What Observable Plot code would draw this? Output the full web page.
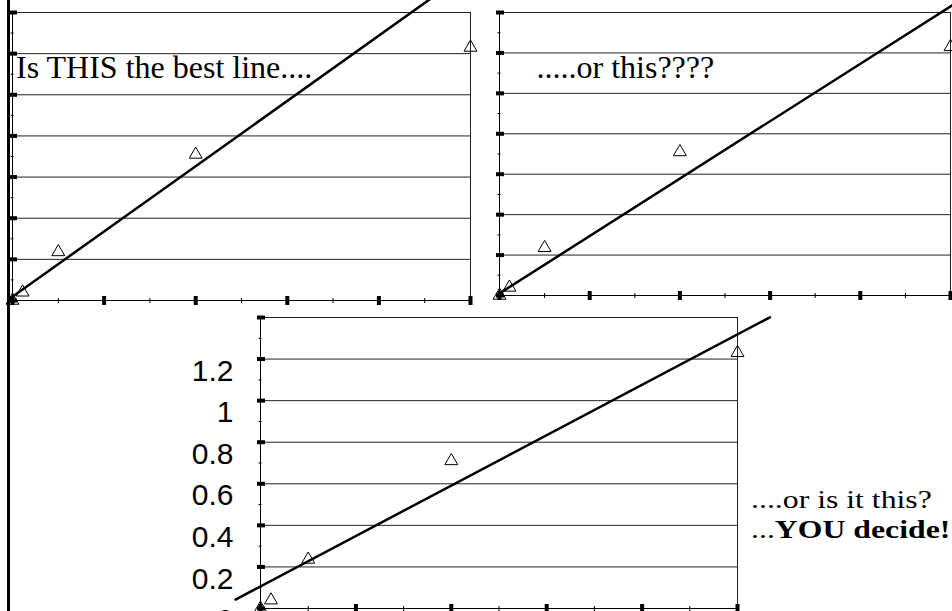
<!DOCTYPE html>
<html>
<head>
<meta charset="utf-8">
<script src="https://cdn.jsdelivr.net/npm/d3@7"></script>
<script src="https://cdn.jsdelivr.net/npm/@observablehq/plot@0.6"></script>
<style>
  html, body { margin: 0; padding: 0; background: white; }
  #wrap { position: relative; width: 952px; height: 611px; overflow: hidden; background: white; }
  #wrap svg { position: absolute; left: 0; top: 0; }
  .border { position: absolute; left: 7px; top: 0; width: 3px; height: 611px; background: #000; }
  .note { position: absolute; font-family: "Liberation Serif", "Times New Roman", serif; font-size: 25px;
          line-height: 25px; white-space: nowrap; color: #000; transform: scaleX(1.27); transform-origin: left top; }
</style>
</head>
<body>
<div id="wrap"><div class="border"></div></div>
<script>
// ---- data ----
const pointX = [0, 0.11, 0.5, 2, 5];
const pointY = [0, 0.04, 0.236, 0.71, 1.23];

// fitted lines (endpoints in data units)
const line1X = [-0.02, 4.7];
const line1Y = [0.012, 1.51];
const line2X = [0.01, 5.2];
const line2Y = [0.013, 1.487];
const line3X = [-0.262, 5.34];
const line3Y = [0.043, 1.401];

const yGrid = [0.2, 0.4, 0.6, 0.8, 1, 1.2, 1.4];
const yMajor = [0, 0.2, 0.4, 0.6, 0.8, 1, 1.2, 1.4];
const yMinor = [0.1, 0.3, 0.5, 0.7, 0.9, 1.1, 1.3];
const xMajor = [0, 1, 2, 3, 4, 5];
const xMinor = [0.5, 1.5, 2.5, 3.5, 4.5];
const yLabelTicks = [0, 0.2, 0.4, 0.6, 0.8, 1, 1.2];
const yLabelText = ["0", "0.2", "0.4", "0.6", "0.8", "1", "1.2"];

const note1 = "Is THIS the best line....";
const note2 = ".....or this????";

const points = pointX.map((x, i) => ({x, y: pointY[i]}));
const toLine = (xs, ys) => xs.map((x, i) => ({x, y: ys[i]}));

function chart({margins, line, note, noteDx, labels}) {
  const marks = [
    Plot.ruleY(yGrid, {stroke: "#222", strokeWidth: 1}),
    Plot.ruleX([5], {y1: 0, y2: 1.4, stroke: "#222", strokeWidth: 1}),
    Plot.ruleX([0], {y1: 0, y2: 1.4, stroke: "#000", strokeWidth: 1}),
    Plot.ruleY([0], {stroke: "#000", strokeWidth: 1}),
    Plot.axisY(yMajor, {anchor: "left", tickSize: 8, dx: 5, strokeWidth: 4, stroke: "#000", fill: "none", label: null}),
    Plot.axisY(yMinor, {anchor: "left", tickSize: 3, dx: 1.5, strokeWidth: 1, stroke: "#000", fill: "none", label: null}),
    Plot.axisX(xMajor, {anchor: "bottom", tickSize: 9, dy: -4, strokeWidth: 4, stroke: "#000", fill: "none", label: null}),
    Plot.axisX(xMinor, {anchor: "bottom", tickSize: 5, dy: -2, strokeWidth: 1, stroke: "#000", fill: "none", label: null}),
    Plot.dot(points, {x: "x", y: "y", symbol: "triangle", r: 4.8, stroke: "#000", fill: "none", strokeWidth: 1}),
    Plot.line(line, {x: "x", y: "y", stroke: "#000", strokeWidth: 2.5})
  ];
  if (labels) {
    marks.push(Plot.axisY(yLabelTicks, {
      anchor: "left", tickSize: 0, tickPadding: 27, stroke: "none", fill: "#000",
      tickFormat: (d) => yLabelText[yLabelTicks.indexOf(d)],
      fontSize: 30, fontFamily: "Liberation Sans, Arial, sans-serif", dy: 12, label: null
    }));
  }
  if (note) {
    marks.push(Plot.text([note], {
      frameAnchor: "top-left", textAnchor: "start", lineAnchor: "bottom",
      dx: noteDx, dy: 65, fontSize: 32, fill: "#000",
      fontFamily: "Liberation Serif, Times New Roman, serif"
    }));
  }
  return Plot.plot({
    width: 952, height: 611,
    marginLeft: margins[0], marginTop: margins[1], marginRight: margins[2], marginBottom: margins[3],
    x: {domain: [0, 5], axis: null},
    y: {domain: [0, 1.4], axis: null},
    style: {background: "transparent", overflow: "visible", color: "#000"},
    marks
  });
}

const wrap = document.getElementById("wrap");
wrap.appendChild(chart({margins: [12, 12, 482, 311], line: toLine(line1X, line1Y), note: note1, noteDx: 3.5}));
wrap.appendChild(chart({margins: [499, 12, 2, 316], line: toLine(line2X, line2Y), note: note2, noteDx: 37}));
wrap.appendChild(chart({margins: [260, 317, 215, 3], line: toLine(line3X, line3Y), labels: true}));

const n1 = document.createElement("div");
n1.className = "note";
n1.style.left = "751px";
n1.style.top = "487px";
n1.textContent = "....or is it this?";
wrap.appendChild(n1);
const n2 = document.createElement("div");
n2.className = "note";
n2.style.left = "751px";
n2.style.top = "517px";
n2.innerHTML = "...<b>YOU decide!</b>";
wrap.appendChild(n2);
</script>
</body>
</html>
